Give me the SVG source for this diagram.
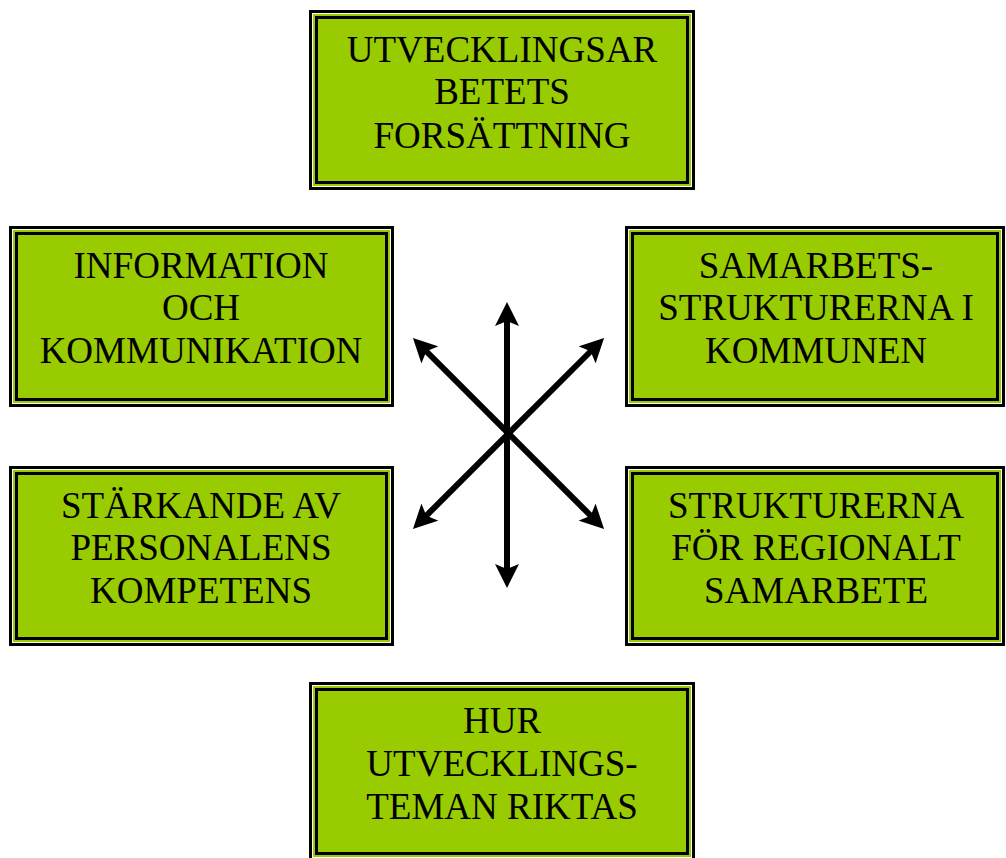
<svg xmlns="http://www.w3.org/2000/svg" width="1006" height="858" viewBox="0 0 1006 858">
<style>
.o{fill:#fff;stroke:#000;stroke-width:3}
.g{fill:#99cc00;stroke:none}
.i{fill:none;stroke:#000;stroke-width:3}
.t{font-family:"Liberation Serif","Times New Roman",serif;font-size:37px;fill:#000;text-anchor:middle}
.c{stroke:#000;stroke-width:6;fill:none;marker-start:url(#ah);marker-end:url(#ah)}
</style>
<defs>
<marker id="ah" markerUnits="userSpaceOnUse" viewBox="0 0 24 24" refX="14" refY="12" markerWidth="24" markerHeight="24" orient="auto-start-reverse">
<path d="M0,0 L24,12 L0,24 L5,12 z" fill="#000"/>
</marker>
</defs>
<rect width="1006" height="858" fill="#fff"/>
<g id="n1">
<rect class="o" x="310.5" y="11.5" width="383" height="177"/>
<rect class="g" x="313" y="14" width="378" height="172"/>
<rect class="i" x="316.5" y="17.5" width="371" height="165"/>
<text class="t" x="502" y="62">UTVECKLINGSAR</text>
<text class="t" x="502" y="104">BETETS</text>
<text class="t" x="502" y="148">FORSÄTTNING</text>
</g>
<g id="n2">
<rect class="o" x="10.5" y="227.5" width="382" height="178"/>
<rect class="g" x="13" y="230" width="377" height="173"/>
<rect class="i" x="16.5" y="233.5" width="370" height="166"/>
<text class="t" x="201" y="278">INFORMATION</text>
<text class="t" x="201" y="320">OCH</text>
<text class="t" x="201" y="363">KOMMUNIKATION</text>
</g>
<g id="n3">
<rect class="o" x="626.5" y="227.5" width="377" height="178"/>
<rect class="g" x="629" y="230" width="372" height="173"/>
<rect class="i" x="632.5" y="233.5" width="365" height="166"/>
<text class="t" x="816" y="278">SAMARBETS-</text>
<text class="t" x="816" y="320">STRUKTURERNA I</text>
<text class="t" x="816" y="363">KOMMUNEN</text>
</g>
<g id="n4">
<rect class="o" x="10.5" y="467.5" width="382" height="177"/>
<rect class="g" x="13" y="470" width="377" height="172"/>
<rect class="i" x="16.5" y="473.5" width="370" height="165"/>
<text class="t" x="201" y="518">STÄRKANDE AV</text>
<text class="t" x="201" y="560">PERSONALENS</text>
<text class="t" x="201" y="603">KOMPETENS</text>
</g>
<g id="n5">
<rect class="o" x="626.5" y="467.5" width="377" height="177"/>
<rect class="g" x="629" y="470" width="372" height="172"/>
<rect class="i" x="632.5" y="473.5" width="365" height="165"/>
<text class="t" x="816" y="518">STRUKTURERNA</text>
<text class="t" x="816" y="560">FÖR REGIONALT</text>
<text class="t" x="816" y="603">SAMARBETE</text>
</g>
<g id="n6">
<rect class="o" x="310.5" y="683.5" width="383" height="176"/>
<rect class="g" x="313" y="686" width="378" height="171"/>
<rect class="i" x="316.5" y="689.5" width="371" height="164"/>
<text class="t" x="502" y="733">HUR</text>
<text class="t" x="502" y="776">UTVECKLINGS-</text>
<text class="t" x="502" y="819">TEMAN RIKTAS</text>
</g>
<g id="connectors">
<line class="c" x1="507" y1="312" x2="507" y2="578"/>
<line class="c" x1="420" y1="345" x2="597" y2="522"/>
<line class="c" x1="597" y1="345" x2="420" y2="522"/>
</g>
</svg>
